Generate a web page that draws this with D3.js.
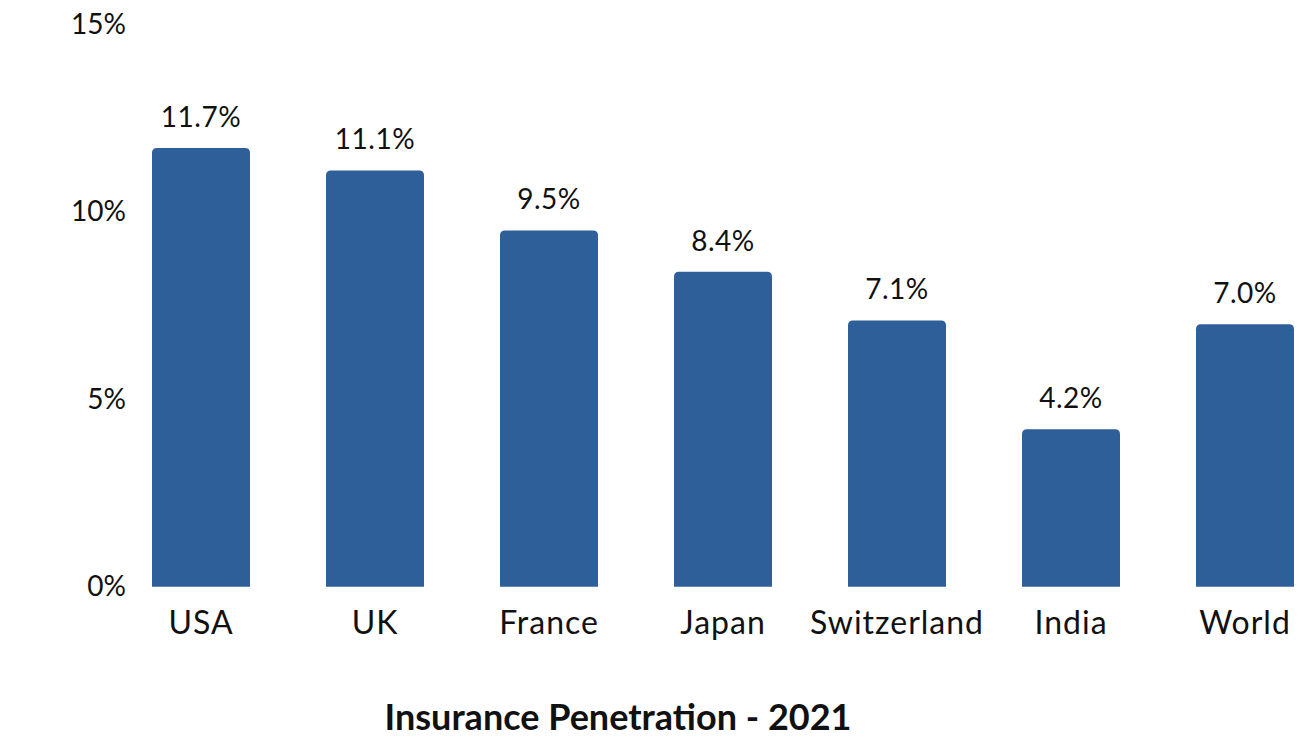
<!DOCTYPE html>
<html>
<head>
<meta charset="utf-8">
<script src="https://cdn.jsdelivr.net/npm/d3@7/dist/d3.min.js"></script>
<style>
  html, body { margin: 0; padding: 0; background: #fff; }
  svg { display: block; }
  text { font-family: Lato, "Noto Sans", sans-serif; fill: #111; }
</style>
</head>
<body>
<svg id="chart" width="1299" height="737"></svg>
<script>
// Insurance penetration (premiums as % of GDP), 2021
const countries = ["USA", "UK", "France", "Japan", "Switzerland", "India", "World"];
const penetration = [11.7, 11.1, 9.5, 8.4, 7.1, 4.2, 7.0];
const yTicks = [0, 5, 10, 15];
const chartTitle = "Insurance Penetration - 2021";

const svg = d3.select("#chart");

const x = d3.scaleBand()
  .domain(countries)
  .range([114, 1332])
  .paddingInner(76 / 174)
  .paddingOuter(38 / 174);

const y = d3.scaleLinear()
  .domain([0, 15])
  .range([586.7, 24.2]);

const barColor = "#2E5F98";
const radius = 5;

// bar with rounded top corners only
function barPath(x0, w, yTop, yBase, r) {
  return `M${x0},${yBase}` +
    `V${yTop + r}` +
    `Q${x0},${yTop} ${x0 + r},${yTop}` +
    `H${x0 + w - r}` +
    `Q${x0 + w},${yTop} ${x0 + w},${yTop + r}` +
    `V${yBase}Z`;
}

const data = countries.map((c, i) => ({ country: c, value: penetration[i] }));

svg.append("g").selectAll("path")
  .data(data)
  .join("path")
  .attr("fill", barColor)
  .attr("d", d => barPath(x(d.country), x.bandwidth(), y(d.value), y(0), radius));

// value labels above bars
svg.append("g").selectAll("text")
  .data(data)
  .join("text")
  .attr("x", d => x(d.country) + x.bandwidth() / 2)
  .attr("y", d => y(d.value) - 21)
  .attr("text-anchor", "middle")
  .style("font-size", "28px")
  .style("letter-spacing", "0.5px")
  .text(d => d.value.toFixed(1) + "%");

// y axis (labels only)
const yAxis = d3.axisLeft(y)
  .tickValues(yTicks)
  .tickFormat(d => d + "%")
  .tickSize(0)
  .tickPadding(0);

const gy = svg.append("g")
  .attr("transform", "translate(126,0)")
  .call(yAxis);
gy.select(".domain").remove();
gy.selectAll("text")
  .attr("fill", "#111")
  .style("font-family", "Lato, 'Noto Sans', sans-serif")
  .style("font-size", "28px");

// x axis (labels only)
const xAxis = d3.axisBottom(x).tickSize(0).tickPadding(0);
const gx = svg.append("g")
  .attr("transform", `translate(0,${y(0)})`)
  .call(xAxis);
gx.select(".domain").remove();
gx.selectAll("text")
  .attr("dy", null)
  .attr("y", 47)
  .attr("fill", "#111")
  .style("font-family", "Lato, 'Noto Sans', sans-serif")
  .style("font-size", "32px")
  .style("letter-spacing", "1px");

// title
svg.append("text")
  .attr("x", 618)
  .attr("y", 730)
  .attr("text-anchor", "middle")
  .style("font-size", "36px")
  .style("font-weight", "700")
  .text(chartTitle);
</script>
</body>
</html>
